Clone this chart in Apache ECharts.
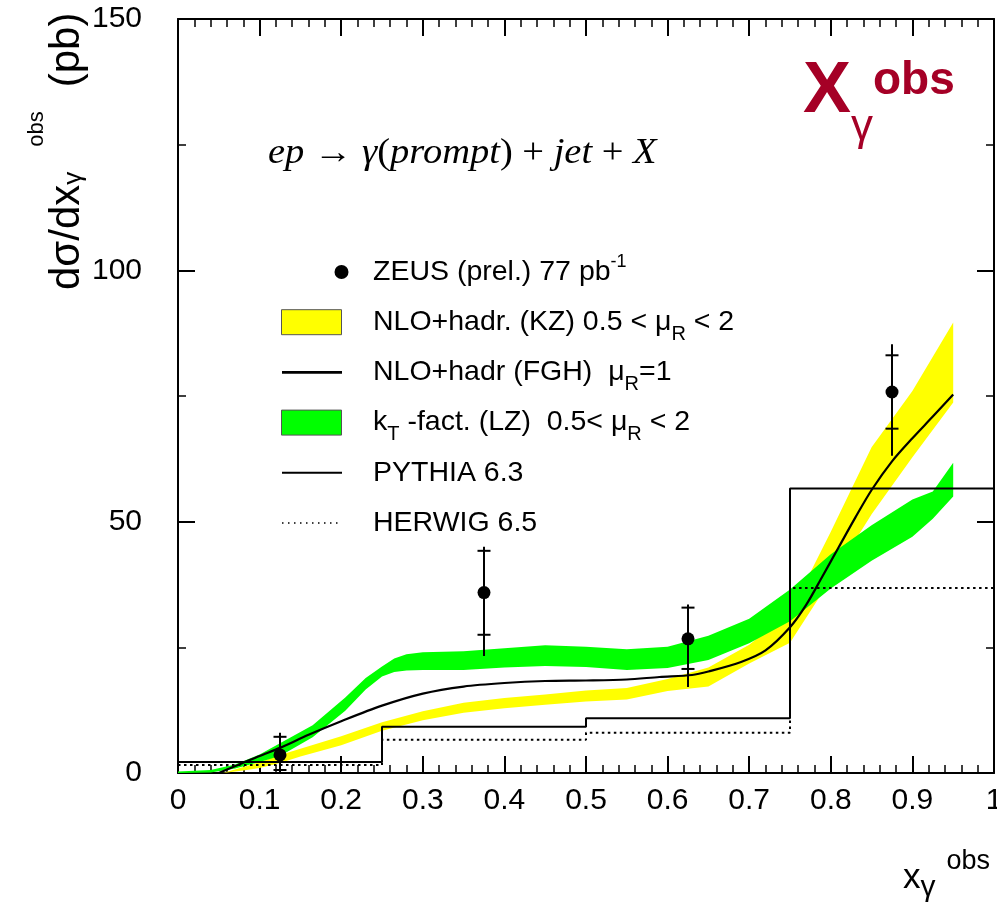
<!DOCTYPE html>
<html>
<head>
<meta charset="utf-8">
<script src="https://cdn.jsdelivr.net/npm/echarts@6/dist/echarts.min.js"></script>
<style>
  html, body { margin: 0; padding: 0; background: #fff; }
  #chart { width: 997px; height: 904px; }
</style>
</head>
<body>
<div id="chart"></div>
<script>
// ZEUS prompt photon + jet: d(sigma)/d(x_gamma^obs) with theory bands and MC histograms

// Measured points (central value, inner = statistical, outer = total uncertainty)
const zeusX      = [0.125, 0.375, 0.625, 0.875];
const zeusY      = [3.6, 35.9, 26.7, 75.8];
const zeusStatLo = [0.6, 27.5, 20.7, 68.5];
const zeusStatHi = [7.2, 44.2, 32.9, 83.1];
const zeusTotLo  = [0.0, 23.3, 17.1, 63.1];
const zeusTotHi  = [8.0, 45.0, 33.5, 85.3];

// Monte Carlo histograms
const binEdges   = [0, 0.25, 0.5, 0.75, 1];
const pythiaVals = [2.2, 9.2, 10.9, 56.6];
const herwigVals = [1.6, 6.6, 8.0, 36.8];

// NLO+hadr. (KZ) scale band
const kzX  = [0.055, 0.08, 0.1, 0.125, 0.15, 0.2, 0.25, 0.3, 0.35, 0.4, 0.45, 0.5, 0.55, 0.6, 0.65, 0.7, 0.75, 0.8, 0.85, 0.9, 0.95];
const kzLo = [0, 0.5, 1.0, 2.0, 3.3, 5.5, 8.4, 10.5, 12.0, 12.9, 13.6, 14.2, 14.6, 16.3, 17.2, 21.8, 25.9, 38.5, 51.5, 62.8, 73.7];
const kzHi = [0, 1.2, 2.2, 3.6, 4.8, 7.3, 10.1, 12.3, 14.0, 14.9, 15.6, 16.4, 16.9, 18.7, 21.0, 25.5, 31.9, 48.0, 64.8, 76.0, 89.6];

// kT-factorisation (LZ) scale band
const lzX  = [0, 0.04, 0.07, 0.1, 0.125, 0.165, 0.205, 0.23, 0.25, 0.265, 0.28, 0.3, 0.35, 0.4, 0.45, 0.5, 0.55, 0.6, 0.65, 0.7, 0.75, 0.8, 0.85, 0.9, 0.925, 0.95];
const lzLo = [0, 0.1, 0.9, 2.2, 3.4, 7.1, 12.4, 16.6, 19.2, 20.1, 20.4, 20.5, 20.5, 21.0, 21.3, 21.1, 20.5, 20.9, 22.5, 25.8, 30.2, 36.7, 42.2, 47.0, 50.6, 55.0];
const lzHi = [0.3, 0.6, 1.7, 3.7, 5.9, 9.5, 15.0, 18.9, 21.2, 22.8, 23.6, 24.0, 24.2, 24.8, 25.4, 25.1, 24.6, 25.1, 27.3, 30.7, 36.5, 43.5, 49.3, 54.4, 56.0, 61.7];

// NLO+hadr (FGH), mu_R = 1
const fghX = [0.05, 0.078, 0.1, 0.125, 0.16, 0.2, 0.25, 0.3, 0.35, 0.4, 0.45, 0.5, 0.55, 0.59, 0.63, 0.65, 0.69, 0.72, 0.75, 0.77, 0.79, 0.81, 0.83, 0.85, 0.875, 0.9, 0.925, 0.95];
const fghY = [0, 1.9, 3.4, 5.0, 7.6, 10.3, 13.4, 15.8, 17.2, 17.9, 18.3, 18.4, 18.6, 19.1, 19.5, 20.2, 22.1, 24.4, 29.0, 33.5, 39.2, 45.0, 50.8, 56.3, 62.0, 66.6, 70.9, 75.3];

// Legend entries (rich-text markup for sub/superscripts)
const legendLabels = [
  '{t|ZEUS (prel.) 77 pb}{sup|-1}',
  '{t|NLO+hadr. (KZ) 0.5 < \u03bc}{sub|R}{t| < 2}',
  '{t|NLO+hadr (FGH)  \u03bc}{sub|R}{t|=1}',
  '{t|k}{sub|T}{t| -fact. (LZ)  0.5< \u03bc}{sub|R}{t| < 2}',
  '{t|PYTHIA 6.3}',
  '{t|HERWIG 6.5}'
];

const SANS = '"Liberation Sans", Arial, Helvetica, sans-serif';
const SERIF = '"Liberation Serif", "Times New Roman", serif';
const YELLOW = '#ffff00';
const GREEN = '#00ff00';
const TITLE_RED = '#a50026';

function pairs(xs, ys) { return xs.map((x, i) => [x, ys[i]]); }
function histData(edges, vals) {
  const d = vals.map((v, i) => [edges[i], v]);
  d.push([edges[edges.length - 1], vals[vals.length - 1]]);
  return d;
}

function bandSeries(name, xs, lo, hi, color, z) {
  return {
    name: name, type: 'custom', coordinateSystem: 'cartesian2d', z: z, silent: true, clip: true,
    data: [[xs[0], lo[0]]],
    renderItem: function (params, api) {
      const pts = [];
      for (let i = 0; i < xs.length; i++) pts.push(api.coord([xs[i], lo[i]]));
      for (let i = xs.length - 1; i >= 0; i--) pts.push(api.coord([xs[i], hi[i]]));
      return { type: 'polygon', shape: { points: pts }, style: { fill: color } };
    }
  };
}

function xAxisDef(pos, showLabels) {
  return {
    type: 'value', position: pos, min: 0, max: 1, interval: 0.1,
    axisLine: { show: true, onZero: false, lineStyle: { color: '#000', width: 2 } },
    axisTick: { show: true, inside: true, length: 17, lineStyle: { color: '#000', width: 2 } },
    minorTick: { show: true, splitNumber: 5, length: 8, lineStyle: { color: '#000', width: 1.5 } },
    axisLabel: { show: showLabels, fontSize: 30, fontFamily: SANS, color: '#000', margin: 13 },
    splitLine: { show: false }, minorSplitLine: { show: false }
  };
}
function yAxisDef(pos, showLabels) {
  return {
    type: 'value', position: pos, min: 0, max: 150, interval: 50,
    axisLine: { show: true, onZero: false, lineStyle: { color: '#000', width: 2 } },
    axisTick: { show: true, inside: true, length: 17, lineStyle: { color: '#000', width: 2 } },
    minorTick: { show: true, splitNumber: 2, length: 8, lineStyle: { color: '#000', width: 1.5 } },
    axisLabel: { show: showLabels, fontSize: 30, fontFamily: SANS, color: '#000', margin: 36 },
    splitLine: { show: false }, minorSplitLine: { show: false }
  };
}

// ---- legend drawn as graphic elements ----
const legendRich = {
  t:   { fontSize: 28.5, fontFamily: SANS, fill: '#000', lineHeight: 34 },
  sub: { fontSize: 20, fontFamily: SANS, fill: '#000', verticalAlign: 'bottom', height: 10, lineHeight: 10 },
  sup: { fontSize: 18, fontFamily: SANS, fill: '#000', verticalAlign: 'top', height: 14, lineHeight: 14 }
};
const rowY = i => 272 + i * 50.2;
const legendGraphics = [
  { type: 'circle', shape: { cx: 341.5, cy: rowY(0), r: 7 }, style: { fill: '#000' } },
  { type: 'rect', shape: { x: 281.5, y: rowY(1) - 12.5, width: 60, height: 25 }, style: { fill: YELLOW, stroke: '#555', lineWidth: 1 } },
  { type: 'line', shape: { x1: 282, y1: rowY(2), x2: 342, y2: rowY(2) }, style: { stroke: '#000', lineWidth: 2.7 } },
  { type: 'rect', shape: { x: 281.5, y: rowY(3) - 12.5, width: 60, height: 25 }, style: { fill: GREEN, stroke: '#555', lineWidth: 1 } },
  { type: 'line', shape: { x1: 282, y1: rowY(4), x2: 342, y2: rowY(4) }, style: { stroke: '#000', lineWidth: 2 } },
  { type: 'line', shape: { x1: 282, y1: rowY(5), x2: 342, y2: rowY(5) }, style: { stroke: '#000', lineWidth: 1.5, lineDash: [1.5, 4.5] } }
];
legendLabels.forEach((txt, i) => {
  legendGraphics.push({
    type: 'text', x: 373, y: rowY(i),
    style: { text: txt, rich: legendRich, align: 'left', verticalAlign: 'middle', fontSize: 28.5, fontFamily: SANS, fill: '#000' }
  });
});

const titleGraphics = [
  // y-axis title, reading bottom to top
  {
    type: 'text', x: 67.5, y: 290, rotation: Math.PI / 2,
    style: {
      text: '{m|d\u03c3/dx}{sub|\u03b3}{sup|obs}{m|(pb)}',
      align: 'left', verticalAlign: 'middle', fill: '#000',
      rich: {
        m:   { fontSize: 42, fontFamily: SANS, fill: '#000', lineHeight: 80 },
        sub: { fontSize: 26, fontFamily: SANS, fill: '#000', verticalAlign: 'bottom', height: 68, lineHeight: 68 },
        sup: { fontSize: 22, fontFamily: SANS, fill: '#000', verticalAlign: 'top', height: 18, lineHeight: 18, padding: [0, 24, 0, 25] }
      }
    }
  },
  // x-axis title
  {
    type: 'text', x: 903, y: 878,
    style: {
      text: '{m|x}{sub|\u03b3}{sup|obs}',
      align: 'left', verticalAlign: 'middle', fill: '#000',
      rich: {
        m:   { fontSize: 35, fontFamily: SANS, fill: '#000', lineHeight: 50 },
        sub: { fontSize: 30, fontFamily: SANS, fill: '#000', verticalAlign: 'bottom', height: 30, lineHeight: 30 },
        sup: { fontSize: 27, fontFamily: SANS, fill: '#000', verticalAlign: 'top', height: 18, lineHeight: 18, padding: [0, 0, 0, 11] }
      }
    }
  },
  // observable tag, top right
  {
    type: 'text', x: 803, y: 92,
    style: {
      text: '{X|X}{g|\u03b3}{o|obs}',
      align: 'left', verticalAlign: 'middle', fill: TITLE_RED,
      rich: {
        X: { fontSize: 72, fontWeight: 'bold', fontFamily: SANS, fill: TITLE_RED, lineHeight: 80 },
        g: { fontSize: 44, fontFamily: SANS, fill: TITLE_RED, verticalAlign: 'bottom', height: 8, lineHeight: 8 },
        o: { fontSize: 46, fontWeight: 'bold', fontFamily: SANS, fill: TITLE_RED, verticalAlign: 'top', height: 58, lineHeight: 58 }
      }
    }
  },
  // process
  {
    type: 'text', x: 268, y: 154, scaleX: 1.1,
    style: {
      text: '{i|ep}{n| \u2192 }{i|\u03b3}{n|(}{i|prompt}{n|) + }{i|jet}{n| + }{i|X}',
      align: 'left', verticalAlign: 'middle', fill: '#000',
      rich: {
        i: { fontSize: 35, fontStyle: 'italic', fontFamily: SERIF, fill: '#000' },
        n: { fontSize: 35, fontFamily: SERIF, fill: '#000' }
      }
    }
  }
];

const chart = echarts.init(document.getElementById('chart'), null, { renderer: 'canvas' });
chart.setOption({
  animation: false,
  backgroundColor: '#fff',
  grid: { left: 178, right: 3, top: 19, bottom: 131, containLabel: false, outerBoundsMode: 'none' },
  xAxis: [xAxisDef('bottom', true), xAxisDef('top', false)],
  yAxis: [yAxisDef('left', true), yAxisDef('right', false)],
  series: [
    bandSeries('NLO+hadr. (KZ)', kzX, kzLo, kzHi, YELLOW, 1),
    bandSeries('kT-fact. (LZ)', lzX, lzLo, lzHi, GREEN, 2),
    {
      name: 'PYTHIA 6.3', type: 'line', step: 'end', z: 3, symbol: 'none', silent: true,
      data: histData(binEdges, pythiaVals),
      lineStyle: { color: '#000', width: 2 }
    },
    {
      name: 'HERWIG 6.5', type: 'line', step: 'end', z: 3, symbol: 'none', silent: true,
      data: histData(binEdges, herwigVals),
      lineStyle: { color: '#000', width: 2, type: [2.5, 3.5] }
    },
    {
      name: 'NLO+hadr (FGH)', type: 'line', z: 4, symbol: 'none', silent: true,
      smooth: 0.3,
      data: pairs(fghX, fghY),
      lineStyle: { color: '#000', width: 2.2 }
    },
    {
      name: 'ZEUS errors', type: 'custom', coordinateSystem: 'cartesian2d', z: 5, silent: true,
      data: zeusX.map((x, i) => [x, zeusY[i], zeusStatLo[i], zeusStatHi[i], zeusTotLo[i], zeusTotHi[i]]),
      encode: { x: 0, y: 1 },
      renderItem: function (params, api) {
        const x = api.value(0);
        const sLo = api.coord([x, api.value(2)]);
        const sHi = api.coord([x, api.value(3)]);
        const tLo = api.coord([x, api.value(4)]);
        const tHi = api.coord([x, api.value(5)]);
        const hw = 6.5;
        const st = { stroke: '#000', lineWidth: 2 };
        return {
          type: 'group',
          children: [
            { type: 'line', shape: { x1: tLo[0], y1: tLo[1], x2: tHi[0], y2: tHi[1] }, style: st },
            { type: 'line', shape: { x1: sLo[0] - hw, y1: sLo[1], x2: sLo[0] + hw, y2: sLo[1] }, style: st },
            { type: 'line', shape: { x1: sHi[0] - hw, y1: sHi[1], x2: sHi[0] + hw, y2: sHi[1] }, style: st }
          ]
        };
      }
    },
    {
      name: 'ZEUS (prel.) 77 pb-1', type: 'scatter', z: 6, silent: true,
      symbol: 'circle', symbolSize: 13,
      data: pairs(zeusX, zeusY),
      itemStyle: { color: '#000', opacity: 1 }
    }
  ],
  graphic: legendGraphics.concat(titleGraphics)
});
</script>
</body>
</html>
